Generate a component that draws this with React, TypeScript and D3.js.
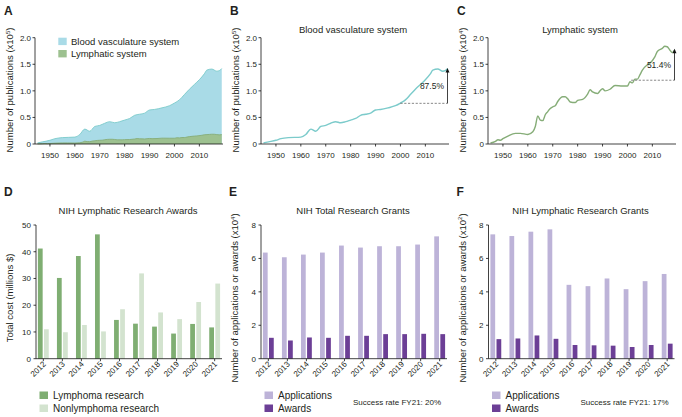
import React from 'react';
import * as d3 from 'd3';

// publications per year (blood: x10^5, lymphatic: x10^4)
const bloodYears = [1945, 1947, 1950, 1952, 1955, 1960, 1962, 1964, 1966, 1968, 1970, 1972, 1974, 1976, 1978, 1980, 1982, 1984, 1986, 1988, 1990, 1992, 1995, 1998, 2000, 2002, 2004, 2006, 2008, 2010, 2012, 2013, 2015, 2017, 2018, 2019];
const bloodValues = [0.02, 0.04, 0.07, 0.1, 0.12, 0.13, 0.18, 0.28, 0.24, 0.33, 0.35, 0.39, 0.42, 0.4, 0.42, 0.45, 0.48, 0.54, 0.56, 0.58, 0.64, 0.65, 0.68, 0.72, 0.77, 0.83, 0.93, 1.03, 1.12, 1.21, 1.32, 1.39, 1.41, 1.37, 1.38, 1.42];

const lymphYears = [1945, 1947, 1948, 1949, 1950, 1952, 1955, 1957, 1960, 1962, 1963, 1964, 1965, 1966, 1967, 1968, 1969, 1970, 1971, 1972, 1974, 1975, 1976, 1977, 1979, 1980, 1982, 1984, 1985, 1986, 1988, 1989, 1990, 1991, 1993, 1995, 1998, 2000, 2001, 2002, 2003, 2004, 2005, 2006, 2008, 2009, 2011, 2012, 2014, 2015, 2016, 2017, 2018, 2019];
const lymphValues = [0.02, 0.05, 0.08, 0.07, 0.1, 0.15, 0.2, 0.2, 0.18, 0.23, 0.33, 0.53, 0.45, 0.44, 0.55, 0.61, 0.67, 0.7, 0.72, 0.8, 0.89, 0.89, 0.85, 0.79, 0.78, 0.82, 0.84, 0.94, 1.02, 0.98, 0.95, 1.0, 1.04, 1.0, 1.03, 1.1, 1.09, 1.09, 1.17, 1.15, 1.22, 1.22, 1.3, 1.39, 1.49, 1.52, 1.64, 1.74, 1.8, 1.84, 1.83, 1.77, 1.72, 1.77];

const yearTicks = [1950, 1960, 1970, 1980, 1990, 2000, 2010];
const pubTicks = [0, 0.5, 1, 1.5, 2];

// grants and awards
const fiscalYears = ['2012', '2013', '2014', '2015', '2016', '2017', '2018', '2019', '2020', '2021'];
const lymphomaCost = [41.2, 30.2, 38.4, 46.5, 14.5, 13.1, 12.0, 9.4, 13.0, 11.7];
const nonlymphomaCost = [11.0, 9.9, 12.6, 10.2, 18.5, 31.9, 17.3, 14.8, 21.2, 28.1];
const totalApplications = [6.35, 6.07, 6.23, 6.35, 6.77, 6.65, 6.73, 6.73, 6.83, 7.32];
const totalAwards = [1.25, 1.09, 1.27, 1.25, 1.37, 1.37, 1.47, 1.47, 1.49, 1.47];
const lymphApplications = [7.44, 7.34, 7.6, 7.74, 4.42, 4.34, 4.8, 4.16, 4.64, 5.07];
const lymphAwards = [1.17, 1.21, 1.39, 1.19, 0.82, 0.8, 0.78, 0.7, 0.82, 0.9];
const costTicks = [0, 10, 20, 30, 40, 50];
const grantTicks = [0, 2, 4, 6, 8];

const FONT = "'Liberation Sans', Arial, Helvetica, sans-serif";
const TXT = '#231f20';
const BLOOD_FILL = '#a9dbe7';
const BLOOD_LINE = '#7ccbcb';
const LYMPH_FILL = '#9dc190';
const LYMPH_LINE = '#86ad78';
const LYMPHOMA = '#7fae72';
const NONLYMPHOMA = '#d3e3cf';
const APPS = '#bdb3d8';
const AWARDS = '#6c3f96';

const Letter = ({ x, y, t }: { x: number; y: number; t: string }) => (
  <text x={x} y={y} fontSize={12} fontWeight="bold" fill={TXT}>{t}</text>
);

const YLabel = ({ x, y, text, sup }: { x: number; y: number; text: string; sup?: string }) => (
  <text transform={`translate(${x},${y}) rotate(-90)`} textAnchor="middle" fontSize={9.5} fill={TXT}>
    {text}
    {sup && (<><tspan dy={-3.5} fontSize={6}>{sup}</tspan><tspan dy={3.5}>)</tspan></>)}
  </text>
);

function TimePanel({ ox, letter, title, series, showLegend, annot, label, sup }: any) {
  const x = d3.scaleLinear().domain([1944, 2019.5]).range([ox + 35, ox + 223]);
  const y = d3.scaleLinear().domain([0, 2]).range([144, 37.7]);
  const y0 = y(0);
  return (
    <g>
      <Letter x={ox + 4} y={15} t={letter} />
      {title && <text x={ox + 127} y={33} textAnchor="middle" fontSize={9.5} fill={TXT}>{title}</text>}
      {series.map((s: any, i: number) => {
        const pts = s.years.map((yr: number, j: number) => [yr, s.values[j]]);
        const area = d3.area<number[]>().x(d => x(d[0])).y0(y0).y1(d => y(d[1])).curve(d3.curveMonotoneX);
        const line = d3.line<number[]>().x(d => x(d[0])).y(d => y(d[1])).curve(d3.curveMonotoneX);
        return (
          <g key={i}>
            {s.fill && <path d={area(pts) || ''} fill={s.fill} />}
            <path d={line(pts) || ''} fill="none" stroke={s.stroke} strokeWidth={s.fill ? 0.9 : 1.4} />
          </g>
        );
      })}
      {annot && (
        <g>
          <line x1={x(annot.from)} x2={ox + 221.5} y1={y(annot.base)} y2={y(annot.base)} stroke="#555" strokeWidth={0.7} strokeDasharray="2.2,1.6" />
          <line x1={ox + 221.5} x2={ox + 221.5} y1={y(annot.base)} y2={y(annot.top) + 3} stroke="#111" strokeWidth={0.8} />
          <path d={`M${ox + 221.5},${y(annot.top)} l-2,4.5 h4 z`} fill="#111" />
          <text x={ox + 218} y={y((annot.base + annot.top) / 2) + 3} textAnchor="end" fontSize={8.5} fill={TXT}>{annot.text}</text>
        </g>
      )}
      <line x1={ox + 35} x2={ox + 35} y1={37.7} y2={y0} stroke="#111" strokeWidth={0.8} />
      <line x1={ox + 35} x2={ox + 223} y1={y0} y2={y0} stroke="#111" strokeWidth={0.8} />
      {pubTicks.map(t => (
        <g key={t}>
          <line x1={ox + 32.5} x2={ox + 35} y1={y(t)} y2={y(t)} stroke="#111" strokeWidth={0.8} />
          <text x={ox + 31} y={y(t) + 3} textAnchor="end" fontSize={8} fill={TXT}>{t === 0 ? '0' : t.toFixed(1)}</text>
        </g>
      ))}
      {yearTicks.map(t => (
        <g key={t}>
          <line x1={x(t)} x2={x(t)} y1={y0} y2={y0 + 2.5} stroke="#111" strokeWidth={0.8} />
          <text x={x(t)} y={y0 + 14} textAnchor="middle" fontSize={8} fill={TXT}>{t}</text>
        </g>
      ))}
      <YLabel x={ox + 13} y={90} text={label} sup={sup} />
      {showLegend && (
        <g fontSize={9.5} fill={TXT}>
          <rect x={ox + 58.3} y={37.7} width={8.4} height={7.4} fill={BLOOD_FILL} />
          <text x={ox + 71} y={45}>Blood vasculature system</text>
          <rect x={ox + 58.3} y={50} width={8.4} height={7.4} fill={LYMPH_FILL} />
          <text x={ox + 71} y={57.3}>Lymphatic system</text>
        </g>
      )}
    </g>
  );
}

function BarPanel({ ox, letter, title, a, b, ca, cb, ticks, max, label, sup, legendA, legendB, note, tickFmt }: any) {
  const x0 = d3.scaleBand().domain(fiscalYears).range([ox + 36, ox + 222]).paddingInner(0.43).paddingOuter(0.1);
  const x1 = d3.scaleBand().domain(['a', 'b']).range([0, x0.bandwidth()]).paddingInner(0.22);
  const y = d3.scaleLinear().domain([0, max]).range([358.7, 225]);
  const y0 = y(0);
  return (
    <g>
      <Letter x={ox + 4} y={196} t={letter} />
      <text x={ox + 128} y={214} textAnchor="middle" fontSize={9.5} fill={TXT}>{title}</text>
      {fiscalYears.map((yr, i) => (
        <g key={yr}>
          <rect x={(x0(yr) || 0) + (x1('a') || 0)} y={y(a[i])} width={x1.bandwidth()} height={y0 - y(a[i])} fill={ca} />
          <rect x={(x0(yr) || 0) + (x1('b') || 0)} y={y(b[i])} width={x1.bandwidth()} height={y0 - y(b[i])} fill={cb} />
        </g>
      ))}
      <line x1={ox + 36} x2={ox + 36} y1={225} y2={y0} stroke="#111" strokeWidth={0.8} />
      <line x1={ox + 36} x2={ox + 222} y1={y0} y2={y0} stroke="#111" strokeWidth={0.8} />
      {ticks.map((t: number) => (
        <g key={t}>
          <line x1={ox + 33.5} x2={ox + 36} y1={y(t)} y2={y(t)} stroke="#111" strokeWidth={0.8} />
          <text x={ox + 31} y={y(t) + 3} textAnchor="end" fontSize={8} fill={TXT}>{tickFmt ? tickFmt(t) : t}</text>
        </g>
      ))}
      {fiscalYears.map(yr => {
        const cx = (x0(yr) || 0) + x0.bandwidth() / 2;
        return (
          <g key={yr}>
            <line x1={cx} x2={cx} y1={y0} y2={y0 + 2.5} stroke="#111" strokeWidth={0.8} />
            <text transform={`translate(${cx + 3},${y0 + 6}) rotate(-45)`} textAnchor="end" fontSize={8} fill={TXT}>{yr}</text>
          </g>
        );
      })}
      <YLabel x={ox + 13} y={298} text={label} sup={sup} />
      <g fontSize={10} fill={TXT}>
        <rect x={ox + 39.5} y={391.5} width={8.5} height={7.5} fill={ca} />
        <text x={ox + 53} y={399}>{legendA}</text>
        <rect x={ox + 39.5} y={404.5} width={8.5} height={7.5} fill={cb} />
        <text x={ox + 53} y={412}>{legendB}</text>
      </g>
      {note && <text x={ox + 128} y={405} fontSize={8} fill={TXT}>{note}</text>}
    </g>
  );
}

export default function App() {
  const lymphInBloodUnits = lymphValues.map(v => v / 10);
  return (
    <svg width={682} height={417} style={{ position: 'absolute', left: 0, top: 0, background: '#fff' }} fontFamily={FONT}>
      <rect width={682} height={417} fill="#fff" />
      <TimePanel ox={0} letter="A" showLegend label="Number of publications (x10" sup="5"
        series={[
          { years: bloodYears, values: bloodValues, fill: BLOOD_FILL, stroke: BLOOD_LINE },
          { years: lymphYears, values: lymphInBloodUnits, fill: LYMPH_FILL, stroke: LYMPH_LINE },
        ]} />
      <TimePanel ox={226} letter="B" title="Blood vasculature system" label="Number of publications (x10" sup="5"
        series={[{ years: bloodYears, values: bloodValues, stroke: BLOOD_LINE }]}
        annot={{ from: 2000, base: 0.765, top: 1.43, text: '87.5%' }} />
      <TimePanel ox={453} letter="C" title="Lymphatic system" label="Number of publications (x10" sup="4"
        series={[{ years: lymphYears, values: lymphValues, stroke: LYMPH_LINE }]}
        annot={{ from: 2001.5, base: 1.2, top: 1.79, text: '51.4%' }} />
      <BarPanel ox={0} letter="D" title="NIH Lymphatic Research Awards" a={lymphomaCost} b={nonlymphomaCost}
        ca={LYMPHOMA} cb={NONLYMPHOMA} ticks={costTicks} max={50} label="Total cost (millions $)"
        legendA="Lymphoma research" legendB="Nonlymphoma research" />
      <BarPanel ox={225} letter="E" title="NIH Total Research Grants" a={totalApplications} b={totalAwards}
        ca={APPS} cb={AWARDS} ticks={grantTicks} max={8} label="Number of applications or awards (x10" sup="4"
        legendA="Applications" legendB="Awards" note="Success rate FY21: 20%" />
      <BarPanel ox={452.5} letter="F" title="NIH Lymphatic Research Grants" a={lymphApplications} b={lymphAwards}
        ca={APPS} cb={AWARDS} ticks={grantTicks} max={8} label="Number of applications or awards (x10" sup="2"
        legendA="Applications" legendB="Awards" note="Success rate FY21: 17%" />
    </svg>
  );
}
